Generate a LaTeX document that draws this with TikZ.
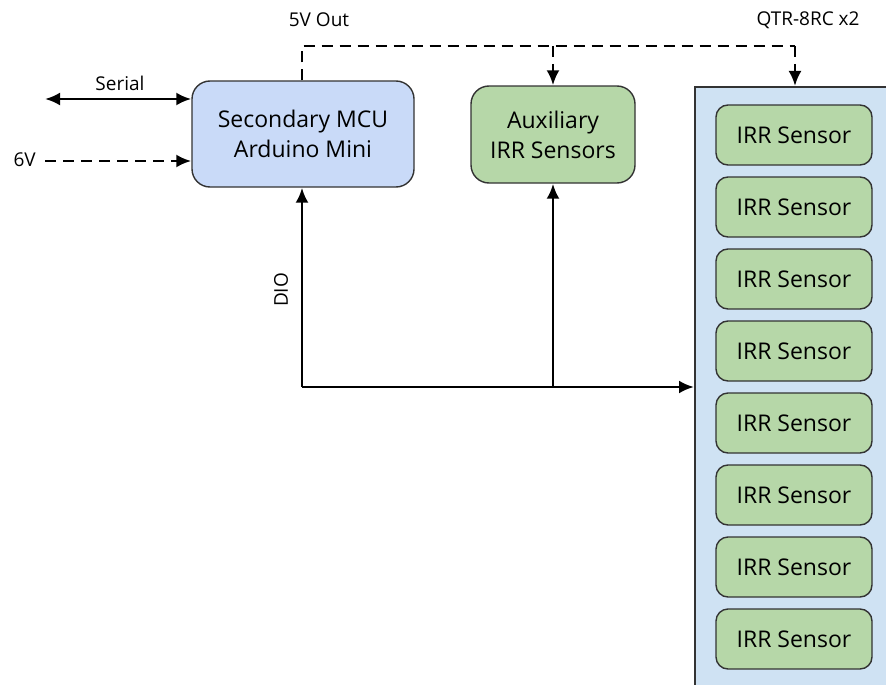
\documentclass[tikz,border=0pt]{standalone}
\usepackage{fontspec}
\setmainfont{Open Sans}
\usetikzlibrary{arrows.meta}
\definecolor{mcublue}{HTML}{C9DAF8}
\definecolor{sensgreen}{HTML}{B6D7A8}
\definecolor{panelblue}{HTML}{CFE2F3}
\definecolor{edge}{HTML}{333333}
\tikzset{
  block/.style={draw=edge, line width=1.4pt, rounded corners=18pt, align=center, inner sep=0pt, font=\fontsize{23}{30}\selectfont},
  sensor/.style={draw=edge, line width=1.4pt, fill=sensgreen, rounded corners=12pt, minimum width=156pt, minimum height=60pt, inner sep=0pt, font=\fontsize{23}{26}\selectfont},
  wire/.style={line width=2.7pt, -{Latex[length=15pt,width=13pt]}},
  power/.style={wire, dash pattern=on 11pt off 7pt},
  lbl/.style={font=\fontsize{19}{22}\selectfont, inner sep=1pt},
}
\begin{document}
\begin{tikzpicture}[x=1pt,y=-1pt]
\useasboundingbox (0,0) rectangle (886,685);
\clip (0,0) rectangle (886,685);

% sensor carrier board (runs off the page)
\node[draw=edge, line width=1.8pt, fill=panelblue, minimum width=220pt, minimum height=640pt, anchor=north west, inner sep=0pt] (board) at (694,86) {};
\foreach \i in {0,...,7}
  \node[sensor] (s\i) at (794,{135+72*\i}) {IRR Sensor};

% main blocks
\node[block, fill=mcublue, minimum width=222pt, minimum height=106pt] (mcu) at (303,134) {Secondary MCU\\Arduino Mini};
\node[block, fill=sensgreen, minimum width=164pt, minimum height=97pt] (aux) at (553,134.5) {Auxiliary\\IRR Sensors};

% junction points
\coordinate (vtop) at (302,46);
\coordinate (vaux) at (553,46);
\coordinate (vqtr) at (795,46);
\coordinate (dio) at (302,387);
\coordinate (dioaux) at (553,387);
\coordinate (serL) at (45,99);
\coordinate (sixv) at (45,161);

% serial link and supply input
\draw[wire, {Latex[length=15pt,width=13pt]}-{Latex[length=15pt,width=13pt]}] (serL) -- (serL -| mcu.west);
\node[lbl, anchor=south] (serlab) at (120,92) {Serial};
\draw[power] (sixv) -- (sixv -| mcu.west);
\node[lbl, anchor=east] (sixlab) at (37,160) {6V};

% 5 V distribution
\draw[wire, dash pattern=on 11pt off 7pt, -] (mcu.north -| vtop) -- (vtop) -- (vqtr);
\draw[power] (vqtr) -- (vqtr |- board.north);
\draw[power] (vaux) -- (aux.north);
\node[lbl] (fivelab) at (319,20) {5V Out};
\node[lbl] (qtrlab) at (808,20) {QTR-8RC x2};

% digital I/O bus
\draw[wire] (dio) -- (dio |- mcu.south);
\draw[wire] (dio) -- (dio -| board.west);
\draw[wire] (dioaux) -- (aux.south);
\node[lbl, rotate=90] (diolab) at (281,290) {DIO};
\end{tikzpicture}
\end{document}
